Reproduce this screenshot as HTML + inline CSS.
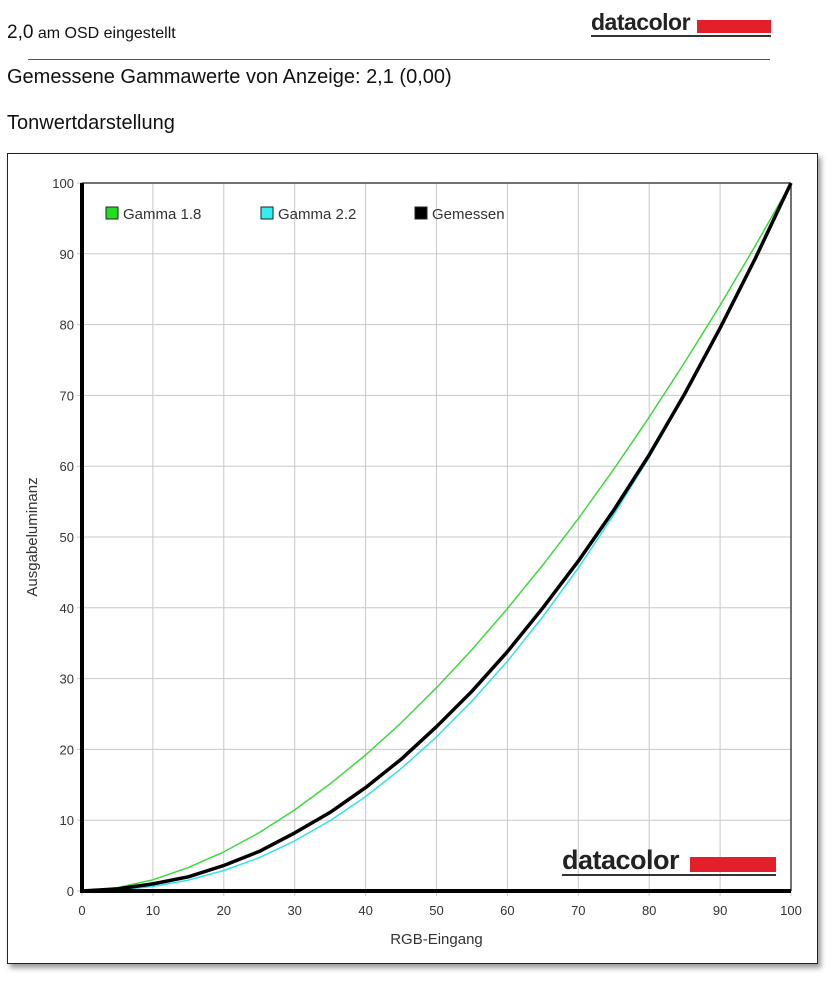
<!DOCTYPE html>
<html><head><meta charset="utf-8"><style>
body{margin:0;width:837px;height:984px;background:#fff;position:relative;overflow:hidden;font-family:"Liberation Sans",sans-serif}
.t{position:absolute;white-space:nowrap;color:#111}
</style></head><body>
<div class="t" style="left:7px;top:22px;font-size:16px;font-family:'Liberation Sans Narrow','Liberation Sans',sans-serif"><span style="font-size:19px">2,0</span> am OSD eingestellt</div>
<div style="position:absolute;left:591px;top:9px;width:180px;height:28px">
<span style="position:absolute;left:0;top:0;font-size:23px;font-weight:bold;color:#222;letter-spacing:-0.5px">datacolor</span>
<div style="position:absolute;left:106px;top:11px;width:74px;height:13px;background:#e3202a"></div>
<div style="position:absolute;left:0;top:26px;width:180px;height:2px;background:#333"></div></div>
<div style="position:absolute;left:28px;top:59px;width:742px;height:1px;background:#555"></div>
<div class="t" style="left:7px;top:66px;font-size:20px">Gemessene Gammawerte von Anzeige: 2,1 (0,00)</div>
<div class="t" style="left:7px;top:112px;font-size:20px">Tonwertdarstellung</div>
<div style="position:absolute;left:7px;top:153px;width:811px;height:811px;border:1px solid #222;box-shadow:3px 4px 5px #999;box-sizing:border-box"></div>
<svg id="chart" width="837" height="984" style="position:absolute;left:0;top:0" font-family="Liberation Sans, sans-serif"></svg>
<div style="position:absolute;left:562px;top:845px;width:214px;height:32px">
<span style="position:absolute;left:0;top:0;font-size:27px;font-weight:bold;color:#222;letter-spacing:-0.5px">datacolor</span>
<div style="position:absolute;left:128px;top:12px;width:86px;height:15px;background:#e3202a"></div>
<div style="position:absolute;left:0;top:29px;width:214px;height:2px;background:#333"></div></div>
<script>
const xValues=[0,5,10,15,20,25,30,35,40,45,50,55,60,65,70,75,80,85,90,95,100];
const gamma18=[0,0.46,1.58,3.30,5.52,8.25,11.45,15.13,19.21,23.75,28.72,34.08,39.88,46.06,52.59,59.58,66.93,74.64,82.73,91.19,100];
const gamma22=[0,0.14,0.63,1.54,2.90,4.71,7.07,9.93,13.33,17.27,21.76,26.82,32.44,38.75,45.62,53.14,61.26,69.97,79.29,89.35,100];
const measured=[0,0.3,1.0,2.0,3.6,5.6,8.2,11.1,14.6,18.6,23.2,28.2,33.8,40.0,46.6,53.8,61.6,70.2,79.5,89.4,100];
const xTicks=[0,10,20,30,40,50,60,70,80,90,100];
const yTicks=[0,10,20,30,40,50,60,70,80,90,100];
const X0=82,X1=791,Y0=891,Y1=183;
const sx=v=>X0+(X1-X0)*v/100, sy=v=>Y0-(Y0-Y1)*v/100;
const svg=document.getElementById('chart');const NS='http://www.w3.org/2000/svg';
function mk(tag,attrs,parent){const e=document.createElementNS(NS,tag);for(const k in attrs)e.setAttribute(k,attrs[k]);(parent||svg).appendChild(e);return e;}
xTicks.forEach(v=>{const l=mk('line',{x1:sx(v),x2:sx(v),y1:Y1,y2:Y0+5,stroke:'#c8c8c8','stroke-width':1});


const t=mk('text',{x:sx(v),y:Y0+24,'text-anchor':'middle','font-size':13,fill:'#333'});t.textContent=v;

});
yTicks.forEach(v=>{const l=mk('line',{x1:X0-5,x2:X1,y1:sy(v),y2:sy(v),stroke:'#c8c8c8','stroke-width':1});


const t=mk('text',{x:X0-8,y:sy(v)+5,'text-anchor':'end','font-size':13,fill:'#333'});t.textContent=v;

});
const topBorder=mk('line',{x1:X0,x2:X1,y1:Y1,y2:Y1,stroke:'#444','stroke-width':1.5});


const rightBorder=mk('line',{x1:X1,x2:X1,y1:Y1,y2:Y0,stroke:'#444','stroke-width':1.5});


function series(vals,color,w,name){const d=xValues.map((x,i)=>(i?'L':'M')+sx(x).toFixed(1)+','+sy(vals[i]).toFixed(1)).join(' ');
const p=mk('path',{d:d,fill:'none',stroke:color,'stroke-width':w,'stroke-linejoin':'round'});

}
series(gamma18,'#3ed83e',1.5,'gamma-1-8-line');
series(gamma22,'#36e0e8',1.5,'gamma-2-2-line');
series(measured,'#000',3.5,'measured-line');
const yAxisLine=mk('line',{x1:X0,x2:X0,y1:Y1,y2:Y0+2,stroke:'#000','stroke-width':4});


const xAxisLine=mk('line',{x1:X0-2,x2:X1,y1:Y0,y2:Y0,stroke:'#000','stroke-width':4});


const xTitle=mk('text',{x:(X0+X1)/2,y:944,'text-anchor':'middle','font-size':15,fill:'#333'});xTitle.textContent='RGB-Eingang';


const yTitle=mk('text',{x:0,y:0,'text-anchor':'middle','font-size':15,fill:'#333',transform:'translate(37,537) rotate(-90)'});yTitle.textContent='Ausgabeluminanz';


const legendItems=[['Gamma 1.8','#22dd22',106],['Gamma 2.2','#33eeee',261],['Gemessen','#000',415]];
legendItems.forEach(([lab,c,x])=>{const g=mk('g',{});


mk('rect',{x:x,y:207,width:12,height:12,fill:c,stroke:'#222','stroke-width':1},g);
const t=mk('text',{x:x+17,y:219,'font-size':15,fill:'#333'},g);t.textContent=lab;});
</script>
</body></html>
